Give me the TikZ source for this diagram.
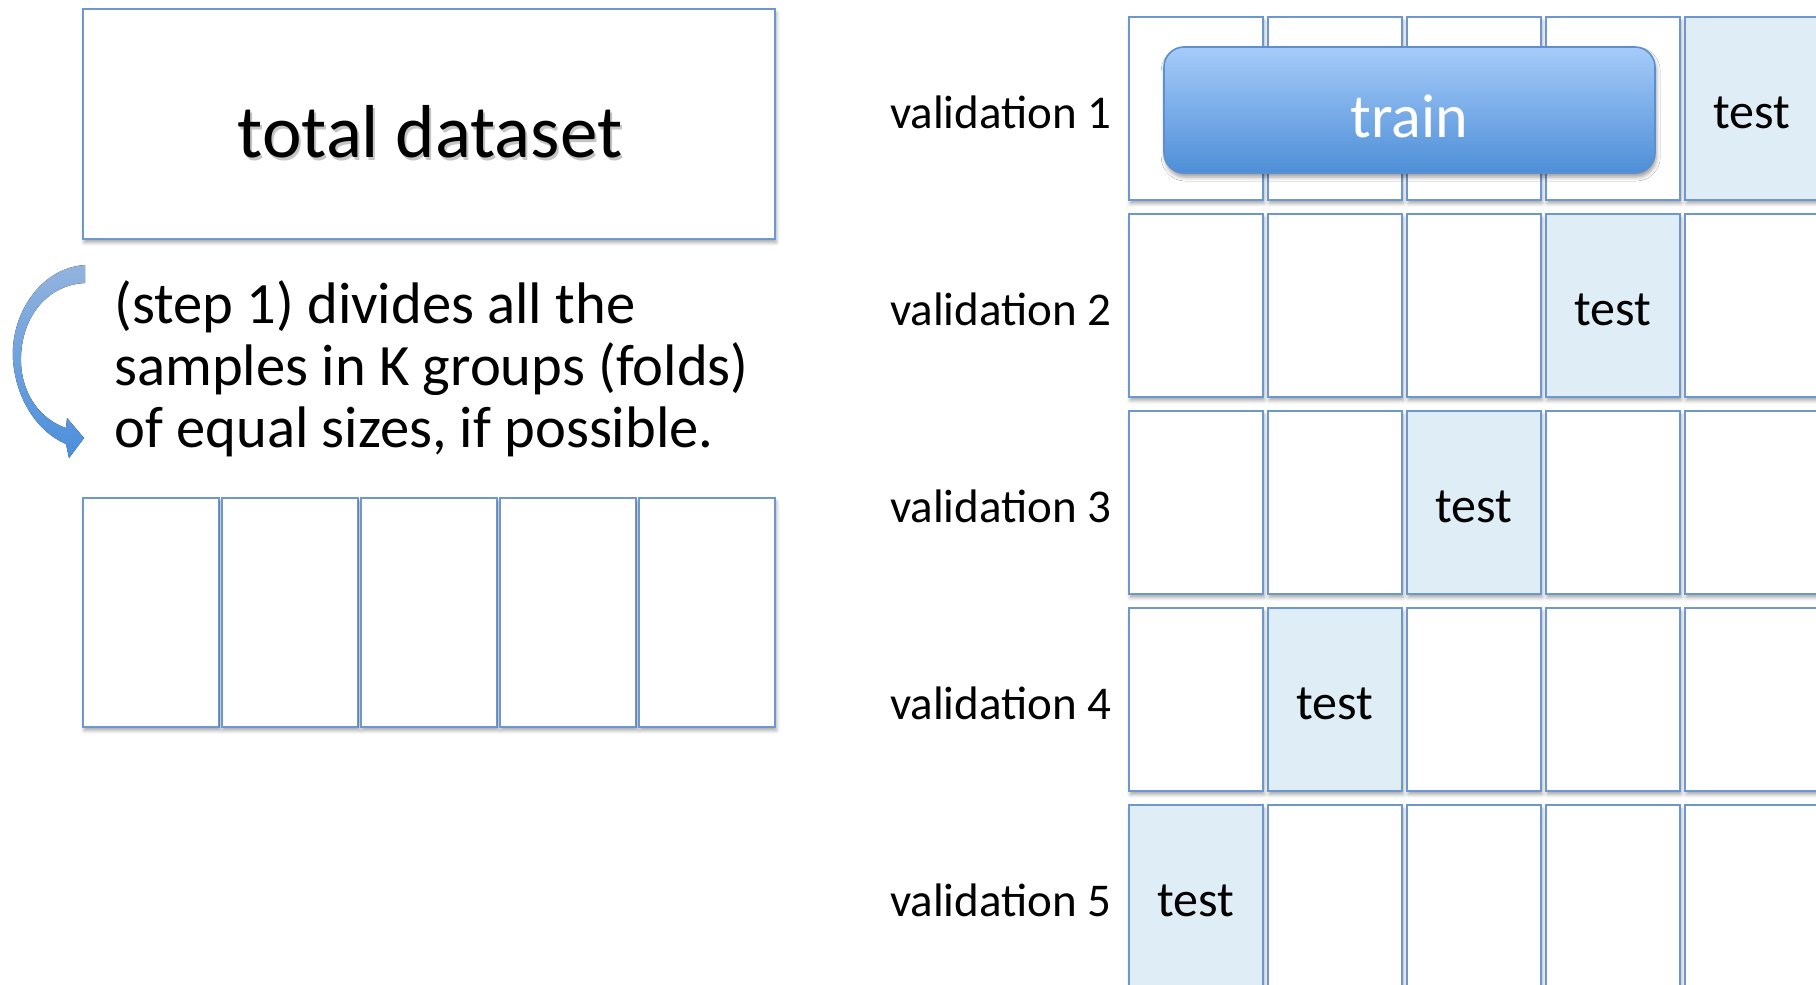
\documentclass[tikz,border=0pt]{standalone}
\usepackage{fontspec}
\setmainfont{Carlito}
\usetikzlibrary{shadows.blur}
\definecolor{bordercol}{HTML}{6D97CF}
\definecolor{testfill}{HTML}{DFEDF6}
\definecolor{traintop}{HTML}{A6CBFA}
\definecolor{trainbot}{HTML}{4E8FD7}
\definecolor{trainborder}{HTML}{5B8FCF}
\definecolor{arrowtop}{HTML}{93B3DE}
\definecolor{arrowbot}{HTML}{4A8FDC}
\begin{document}
\begin{tikzpicture}[x=0.5pt,y=-0.5pt,
  box/.style={draw=bordercol, line width=1.2pt, fill=white, inner sep=0pt,
    blur shadow={shadow xshift=0.6pt, shadow yshift=-1.8pt, shadow blur radius=1.8pt, shadow opacity=35}},
  foldbox/.style={box, minimum width=68pt, minimum height=114.5pt},
  cellbox/.style={box, minimum width=67pt, minimum height=91.5pt},
  testcell/.style={cellbox, fill=testfill},
  trainbox/.style={draw=trainborder, line width=0.8pt, rounded corners=10pt,
    top color=traintop, bottom color=trainbot, inner sep=0pt,
    minimum width=245.5pt, minimum height=63pt,
    blur shadow={shadow xshift=0.6pt, shadow yshift=-2pt, shadow blur radius=2pt, shadow opacity=40}},
  vlabel/.style={anchor=base east, inner sep=0pt, font=\fontsize{23.5}{28}\selectfont},
  celltext/.style={anchor=base, inner sep=0pt, font=\fontsize{25}{30}\selectfont},
  steptext/.style={anchor=base west, inner sep=0pt, font=\fontsize{29.3}{34}\selectfont}
]
\useasboundingbox (0,0) rectangle (1816,985);

% total dataset box
\node[box, minimum width=346pt, minimum height=115pt] (total) at (429,124) {};
\node[anchor=base, inner sep=0pt, text=black!45, opacity=0.5, font=\fontsize{37.5}{44}\selectfont] (totalshadow) at (432,160) {total dataset};
\node[anchor=base, inner sep=0pt, font=\fontsize{37.5}{44}\selectfont] (totaltxt) at (430,157) {total dataset};

% curved arrow
\fill[top color=arrowtop, bottom color=arrowbot]
  (85,265) .. controls (40,268) and (10,315) .. (13,360)
  .. controls (16,400) and (38,432) .. (66,444)
  -- (69,458) -- (84,438) -- (67,418) -- (66,428)
  .. controls (42,420) and (22,396) .. (21,362)
  .. controls (20,320) and (45,285) .. (85,283) -- cycle;

% step text
\node[steptext] (s1) at (114,323) {(step 1) divides all the};
\node[steptext] (s2) at (114,385) {samples in K groups (folds)};
\node[steptext] (s3) at (114,447) {of equal sizes, if possible.};

% folds
\foreach \i in {0,...,4}{
  \node[foldbox] (f\i) at ({151+139*\i},612.5) {};
}

% grid
\foreach \j in {0,...,4}{
  \foreach \i in {0,...,4}{
    \pgfmathtruncatemacro{\t}{4-\j}
    \ifnum\i=\t
      \node[testcell] (c\j\i) at ({1196+139*\i},{108.5+197*\j}) {};
    \else
      \node[cellbox] (c\j\i) at ({1196+139*\i},{108.5+197*\j}) {};
    \fi
  }
}
\foreach \j in {0,...,4}{
  \pgfmathtruncatemacro{\t}{4-\j}
  \pgfmathtruncatemacro{\n}{\j+1}
  \node[vlabel] (v\j) at (1112,{128+197*\j}) {validation \n};
  \node[celltext] (t\j) at ({1196+139*\t},{128+197*\j}) {test};
}

% train
\node[trainbox] (train) at (1409.5,110) {};
\node[anchor=base, inner sep=0pt, text=white, font=\fontsize{31}{36}\selectfont] (traintxt) at (1409.5,137) {train};
\end{tikzpicture}
\end{document}
